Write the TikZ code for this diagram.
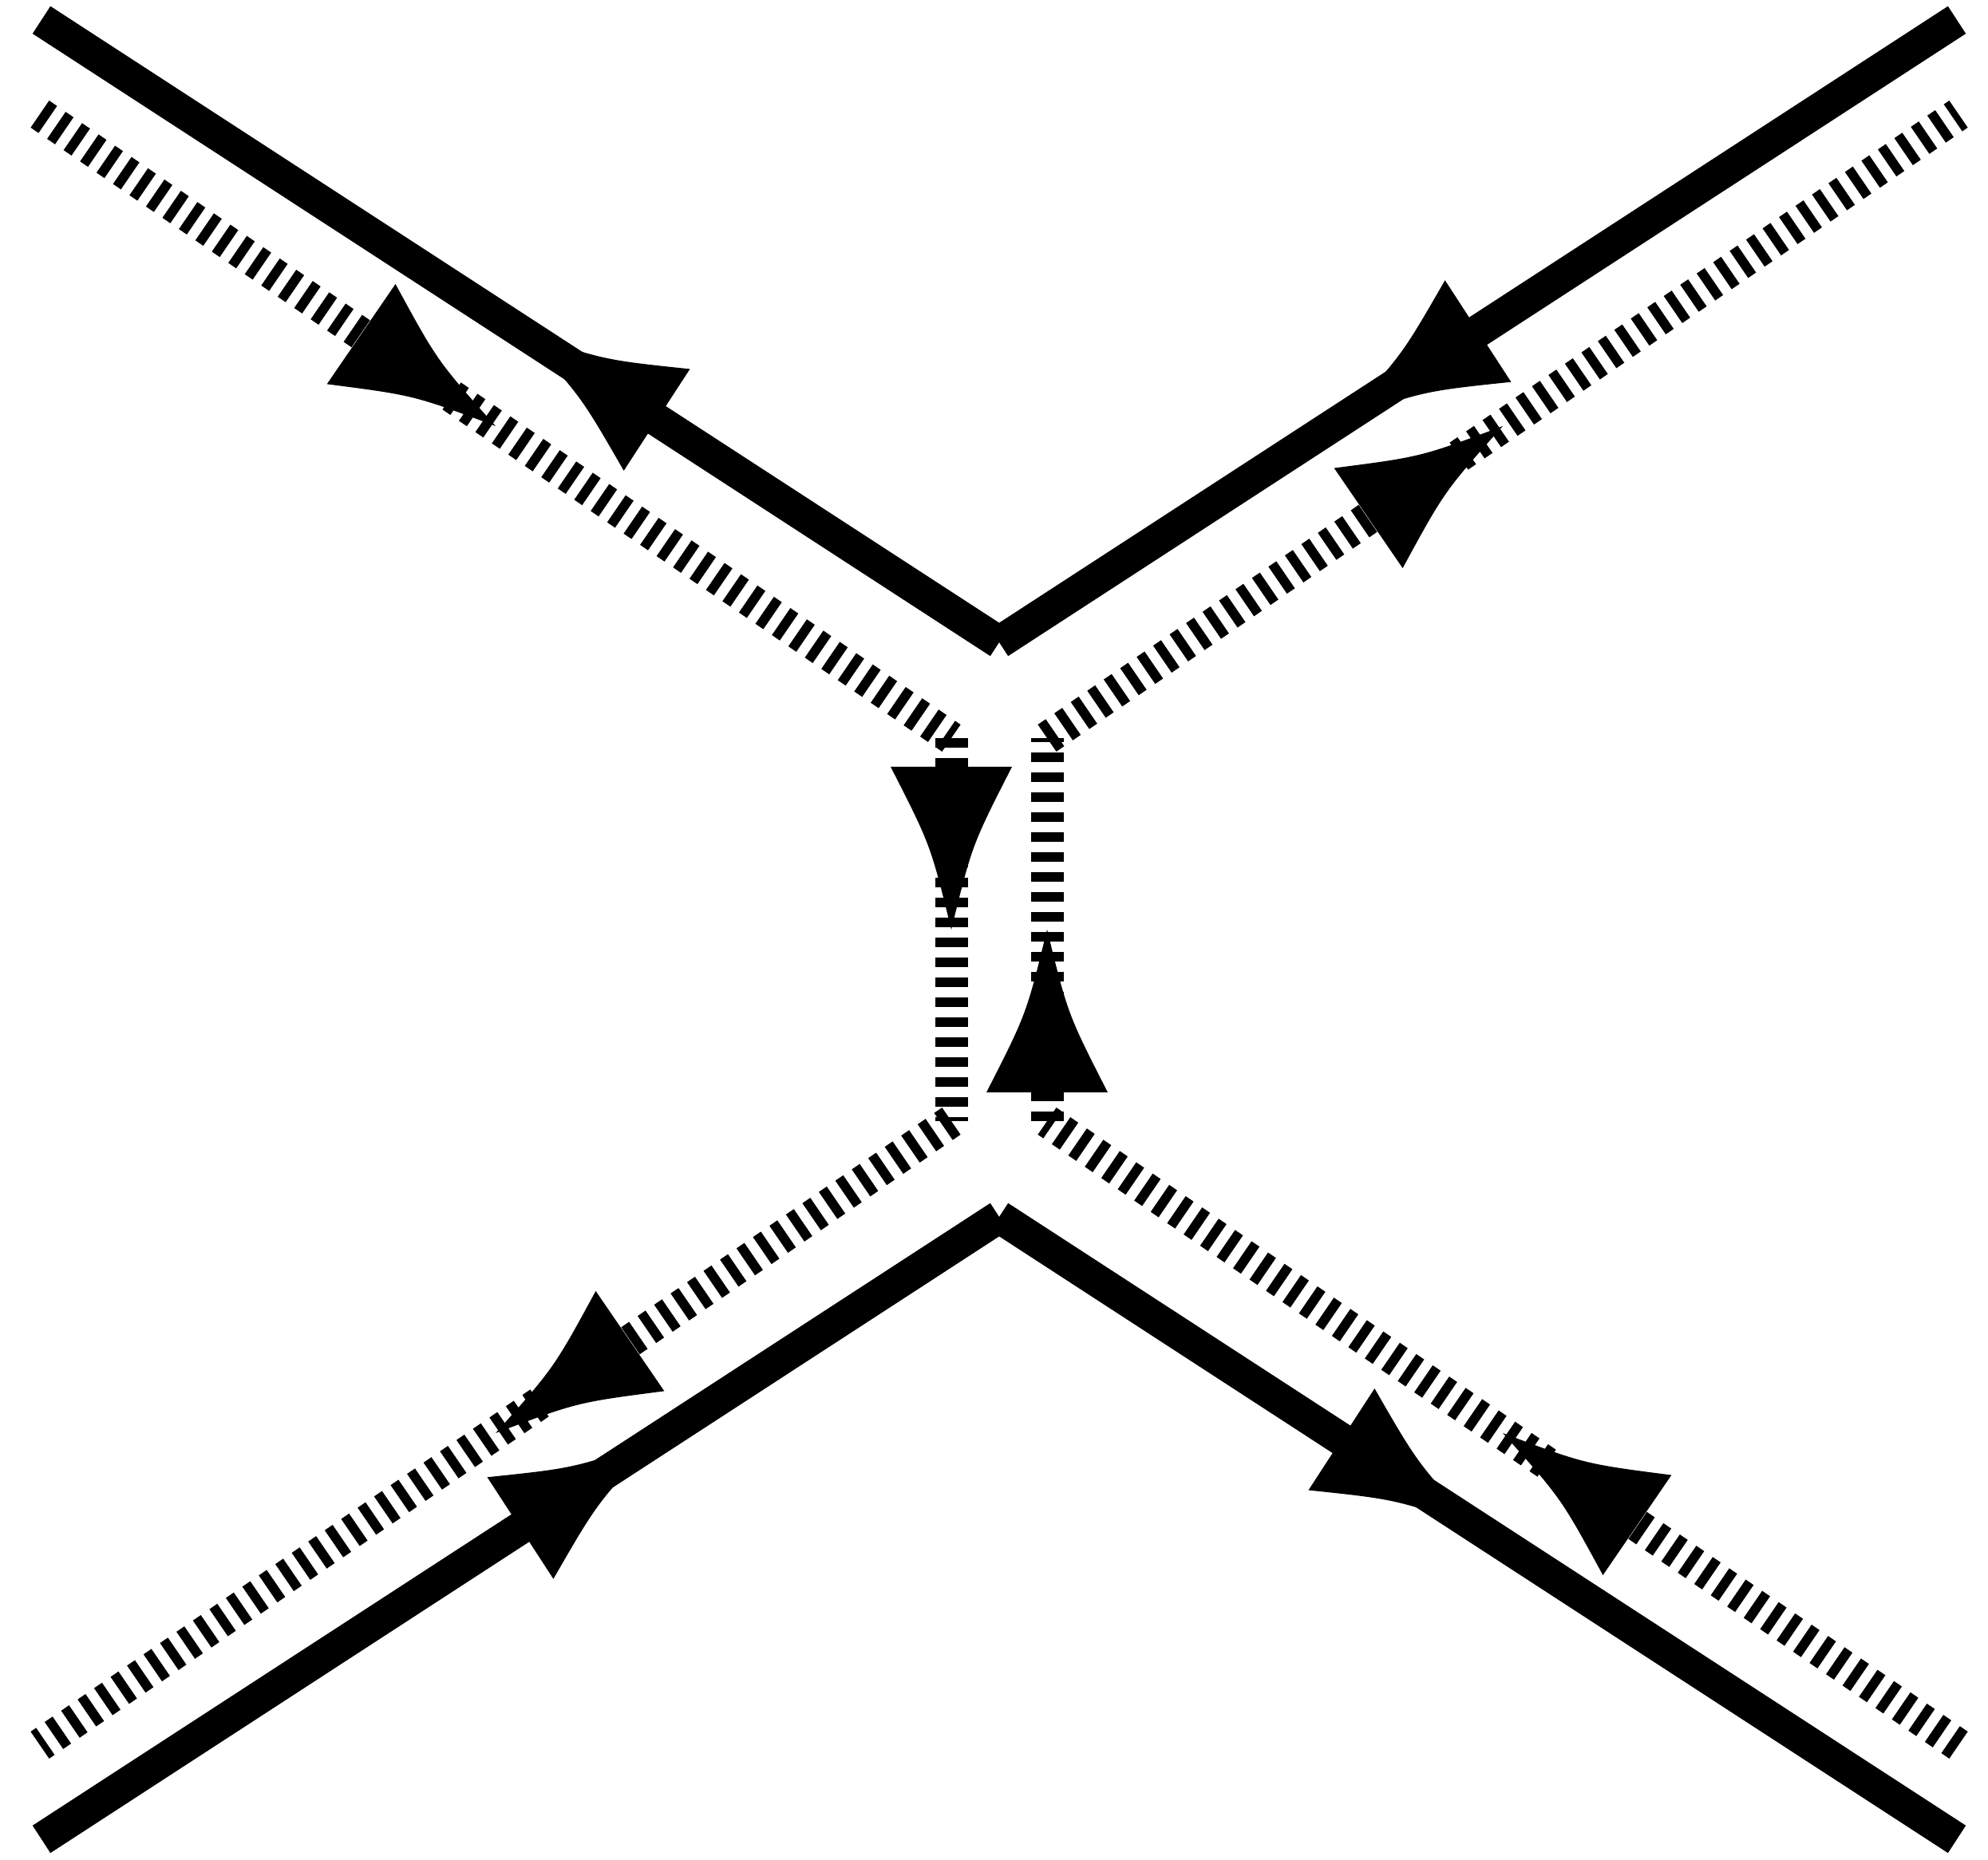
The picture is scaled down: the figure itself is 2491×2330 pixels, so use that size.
\documentclass[tikz,border=0pt]{standalone}
\usepackage{tikz}
\usetikzlibrary{decorations.markings}

% arrow head with concave sides, tip at (#1,0) of the local frame
\newcommand{\flowtip}[1]{%
  \fill[solid] (#1,0) .. controls ({#1-106},26) .. ({#1-204},76)
    -- ({#1-204},-76) .. controls ({#1-106},-26) .. (#1,0) -- cycle;}

\tikzset{
  dbl/.style={line width=0.41cm},
  ghost/.style={line width=0.41cm, dash pattern=on 0.12cm off 0.13cm},
  tipmid/.style={postaction={decorate, decoration={markings,
      mark=at position 0.5 with {\flowtip{0}}}}},
  backmid/.style={postaction={decorate, decoration={markings,
      mark=at position 0.5 with {\flowtip{204}}}}}
}

\begin{document}
\begin{tikzpicture}[x=0.01cm, y=0.01cm]
    \useasboundingbox (0,0) rectangle (2491,2330);

    % end points of the solid lines
    \coordinate (sTL) at (52,2305);
    \coordinate (sTR) at (2452,2305);
    \coordinate (vT) at (1252,1525);
    \coordinate (vB) at (1252,805);
    \coordinate (sBL) at (52,25);
    \coordinate (sBR) at (2452,25);

    % end points of the hatched lines
    \coordinate (gTL) at (50,2187);
    \coordinate (gTR) at (2454,2187);
    \coordinate (gL1) at (1192,1405);
    \coordinate (gL2) at (1192,925);
    \coordinate (gR1) at (1312,1405);
    \coordinate (gR2) at (1312,925);
    \coordinate (gBL) at (50,143);
    \coordinate (gBR) at (2454,143);

    % solid lines
    \draw[dbl, backmid] (sTR) -- (vT);
    \draw[dbl, tipmid] (vT) -- (sTL);
    \draw[dbl, backmid] (sBL) -- (vB);
    \draw[dbl, tipmid] (vB) -- (sBR);

    % hatched lines
    \draw[ghost, tipmid] (gTL) -- (gL1);
    \draw[ghost, tipmid] (gL1) -- (gL2);
    \draw[ghost, tipmid] (gL2) -- (gBL);
    \draw[ghost, tipmid] (gBR) -- (gR2);
    \draw[ghost, tipmid] (gR2) -- (gR1);
    \draw[ghost, tipmid] (gR1) -- (gTR);
\end{tikzpicture}
\end{document}
